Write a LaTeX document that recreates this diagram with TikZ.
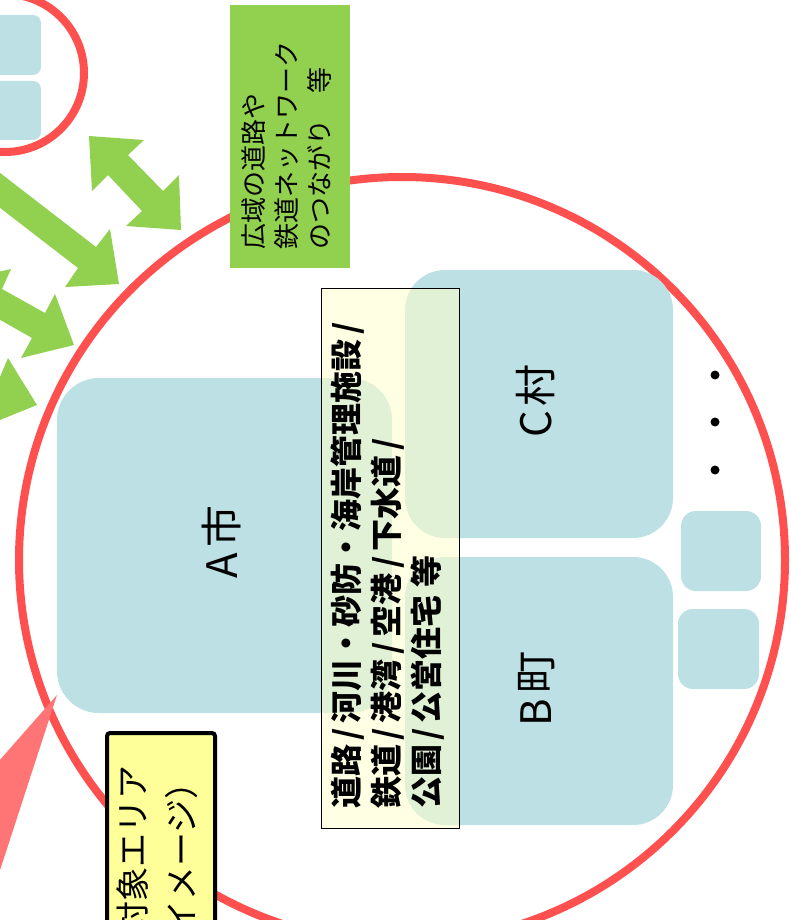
\documentclass[tikz,border=0pt]{standalone}
\usepackage{fontspec}
\setmainfont{Noto Sans CJK JP}
\definecolor{cblue}{HTML}{BCE0E3}
\definecolor{cred}{HTML}{FF5050}
\definecolor{cgreen}{HTML}{92D050}
\definecolor{cyel}{HTML}{FFFF99}
\definecolor{cpink}{HTML}{FF7575}
\definecolor{clist}{HTML}{FFFFCC}
\newcommand{\jsl}{\makebox[0.68em]{/}}
\begin{document}
\begin{tikzpicture}[x=1pt,y=-1pt,
  ring/.style={draw=cred, line width=8pt},
  bbox/.style={fill=cblue, rounded corners=#1},
  garrow/.style={fill=cgreen},
  lbl/.style={rotate=90, inner sep=0, font=\fontsize{42}{44}\selectfont},
  vtext/.style={rotate=90, inner sep=0}]
\useasboundingbox (0,0) rectangle (790,920);
\clip (0,0) rectangle (790,920);
% green arrows
\fill[garrow] (89,136) -- (144,140) -- (128,155) -- (163,191) -- (179,175) -- (181,230) -- (126,226) -- (142,211) -- (108,175) -- (92,191) -- cycle;
\fill[garrow] (-40,142) -- (96,247) -- (110,229) -- (119,284) -- (65,287) -- (78,268) -- (-40,177) -- cycle;
\fill[garrow] (2,289) -- (45,313) -- (55,294) -- (74,345) -- (21,358) -- (32,338) -- (-12,313) -- (-23,333) -- (-42,281) -- (11,269) -- cycle;
\fill[garrow] (-10,401) -- (0,377) -- (8,358) -- (37,405) -- (-10,424) -- cycle;
% circles
\draw[ring] (402,560) circle[radius=383pt];
\draw[ring] (5,73) circle[radius=79pt];
% small boxes in small circle
\fill[bbox=8pt] (-20,15) rectangle (41,75);
\fill[bbox=8pt] (-20,81) rectangle (41,140);
% municipality boxes
\fill[bbox=42pt] (57,378) rectangle (392,713);
\fill[bbox=40pt] (405,270) rectangle (673,538);
\fill[bbox=40pt] (405,557) rectangle (673,825);
\fill[bbox=15pt] (681,511) rectangle (761,591);
\fill[bbox=15pt] (678,609) rectangle (759,689);
% dots
\fill (715,375) circle[radius=4.5pt];
\fill (715,422) circle[radius=4.5pt];
\fill (715,470) circle[radius=4.5pt];
% labels
\node[lbl] (A) at (221,542) {A\hspace{5pt}市};
\node[lbl] (C) at (536,401) {C\hspace{5pt}村};
\node[lbl] (B) at (537,689) {B\hspace{5pt}町};
% facility list box
\draw[black, line width=0.8pt, fill=clist, fill opacity=0.55] (321,288) rectangle (459,828);
\node[vtext, anchor=north west, align=left, font=\bfseries\fontsize{32}{40}\selectfont] (list) at (331,809)
  {道路\jsl 河川・砂防・海岸管理施設\jsl\\鉄道\jsl 港湾\jsl 空港\jsl 下水道\jsl\\公園\jsl 公営住宅 等};
% green network box
\fill[cgreen] (230,5) rectangle (350,268);
\node[vtext, anchor=north west, align=left, font=\fontsize{26}{33}\selectfont] (wide) at (241,250)
  {広域の道路や\\鉄道ネットワーク\\のつながり　等};
% pink wedge
\fill[cpink] (57,695) -- (-60,828) -- (-10,901) -- cycle;
% yellow target-area box
\draw[black, line width=4pt, fill=cyel, rounded corners=3pt] (107,733) rectangle (215,960);
\node[vtext, anchor=north east, align=right, font=\fontsize{34}{49}\selectfont] (area) at (117,765)
  {対象エリア\\（イメージ）};
\end{tikzpicture}
\end{document}
